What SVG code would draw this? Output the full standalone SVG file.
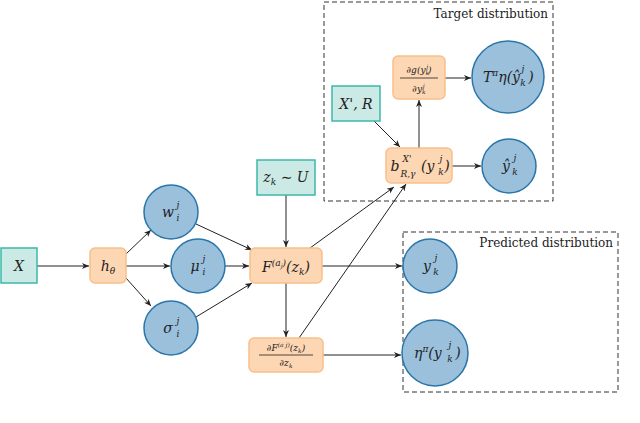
<svg xmlns="http://www.w3.org/2000/svg" width="640" height="423" viewBox="0 0 640 423">
<style>
.t{fill:#cceae5;stroke:#3cb8a8;stroke-width:1.5}
.o{fill:#fdd6b3;stroke:#f8c08c;stroke-width:1.5}
.c{fill:#9ac0dc;stroke:#2a76aa;stroke-width:1.5}
.d{fill:none;stroke:#333;stroke-width:1;stroke-dasharray:5,3}
text{font-family:'DejaVu Serif','Liberation Serif',serif;font-style:italic;font-size:14px;fill:#222;text-anchor:middle}
.s{font-size:9px}
.up{font-style:normal}
.e{stroke:#222;stroke-width:1;fill:none;marker-end:url(#a)}
</style>
<defs><marker id="a" markerWidth="8" markerHeight="8" refX="7" refY="4" orient="auto" markerUnits="userSpaceOnUse"><path d="M0,1 L7,4 L0,7 L2,4z" fill="#222"/></marker></defs>
<rect class="d" x="324" y="2" width="229" height="199"/>
<text class="up" x="548" y="18" style="text-anchor:end;font-size:12px">Target distribution</text>
<rect class="d" x="403" y="232" width="215" height="160"/>
<text class="up" x="613" y="247" style="text-anchor:end;font-size:12px">Predicted distribution</text>
<g id="connectors">
<path class="e" d="M37,266 H89"/>
<path class="e" d="M126,254 L151,230"/>
<path class="e" d="M126,266 H170"/>
<path class="e" d="M126,278 L151,306"/>
<path class="e" d="M196,224 L252,250"/>
<path class="e" d="M225,266 H249"/>
<path class="e" d="M196,317 L252,283"/>
<path class="e" d="M286,195 V247"/>
<path class="e" d="M286,283 V337"/>
<path class="e" d="M322,266 H402"/>
<path class="e" d="M323,355 H401"/>
<path class="e" d="M310,248 L394,187"/>
<path class="e" d="M299,338 L406,184"/>
<path class="e" d="M374,121 L400,147"/>
<path class="e" d="M419,148 V100"/>
<path class="e" d="M445,78 H471"/>
<path class="e" d="M452,166 H481"/>
</g>
<g id="X"><rect class="t" x="1" y="248" width="36" height="35"/><text x="19" y="271">X</text></g>
<g id="h"><rect class="o" x="90" y="248" width="36" height="35" rx="5"/><text x="108" y="271">h<tspan class="s" dy="3">θ</tspan></text></g>
<g id="w"><circle class="c" cx="171" cy="212" r="27"/><text x="168" y="217">w</text><text class="s" x="178" y="221">i</text><text class="s" x="178" y="208">j</text></g>
<g id="mu"><circle class="c" cx="198" cy="266" r="27"/><text x="195" y="271">μ</text><text class="s" x="204" y="275">i</text><text class="s" x="204" y="262">j</text></g>
<g id="sigma"><circle class="c" cx="171" cy="328" r="27"/><text x="168" y="333">σ</text><text class="s" x="178" y="337">i</text><text class="s" x="178" y="324">j</text></g>
<g id="z"><rect class="t" x="257" y="160" width="58" height="35"/><text x="286" y="182">z<tspan class="s" dy="3">k</tspan><tspan dy="-3" class="up"> ∼ </tspan>U</text></g>
<g id="F"><rect class="o" x="250" y="248" width="72" height="35" rx="5"/><text x="286" y="272">F<tspan class="s" dy="-6">(a</tspan><tspan style="font-size:6px" dy="2">j</tspan><tspan class="s" dy="-2">)</tspan><tspan dy="6">(z</tspan><tspan class="s" dy="3">k</tspan><tspan dy="-3">)</tspan></text></g>
<g id="dF"><rect class="o" x="249" y="338" width="74" height="34" rx="5"/><text class="s" x="286" y="351">∂F<tspan style="font-size:6px" dy="-4">(a j)</tspan><tspan dy="4">(z</tspan><tspan style="font-size:6px" dy="2">k</tspan><tspan dy="-2">)</tspan></text><path d="M259,355 H313" stroke="#222" stroke-width="0.8"/><text class="s" x="286" y="366">∂z<tspan style="font-size:6px" dy="2">k</tspan></text></g>
<g id="y"><circle class="c" cx="430" cy="266" r="27"/><text x="427" y="271">y</text><text class="s" x="436" y="275">k</text><text class="s" x="436" y="261">j</text></g>
<g id="eta"><circle class="c" cx="435" cy="353" r="33"/><text x="414" y="358" style="text-anchor:start">η<tspan class="s" dy="-6">π</tspan><tspan dy="6">(y</tspan></text><text class="s" x="450" y="362">k</text><text class="s" x="450" y="348">j</text><text x="458" y="358">)</text></g>
<g id="XR"><rect class="t" x="332" y="86" width="48" height="35"/><text x="356" y="109">X', R</text></g>
<g id="b"><rect class="o" x="386" y="148" width="66" height="35" rx="5"/><text x="395" y="171">b</text><text class="s" x="407" y="162">X'</text><text class="s" x="408" y="177">R,γ</text><text x="421" y="171" style="text-anchor:start">(y</text><text class="s" x="441" y="175">k</text><text class="s" x="441" y="162">j</text><text x="447" y="171">)</text></g>
<g id="dg"><rect class="o" x="393" y="56" width="52" height="43" rx="5"/><text class="s" x="419" y="73">∂g(y<tspan style="font-size:6px" dy="2">k</tspan><tspan style="font-size:6px" dx="-3" dy="-6">j</tspan><tspan dy="4">)</tspan></text><path d="M400,78 H438" stroke="#222" stroke-width="0.8"/><text class="s" x="419" y="92">∂y<tspan style="font-size:6px" dy="2">k</tspan><tspan style="font-size:6px" dx="-3" dy="-6">j</tspan></text></g>
<g id="T"><circle class="c" cx="508" cy="77" r="36"/><text x="483" y="82" style="text-anchor:start">T<tspan class="s" dy="-6">π</tspan><tspan dy="6">η(ŷ</tspan></text><text class="s" x="523" y="86">k</text><text class="s" x="523" y="72">j</text><text x="531" y="82">)</text></g>
<g id="yhat"><circle class="c" cx="509" cy="166" r="27"/><text x="506" y="171">ŷ</text><text class="s" x="515" y="175">k</text><text class="s" x="515" y="161">j</text></g>
</svg>
